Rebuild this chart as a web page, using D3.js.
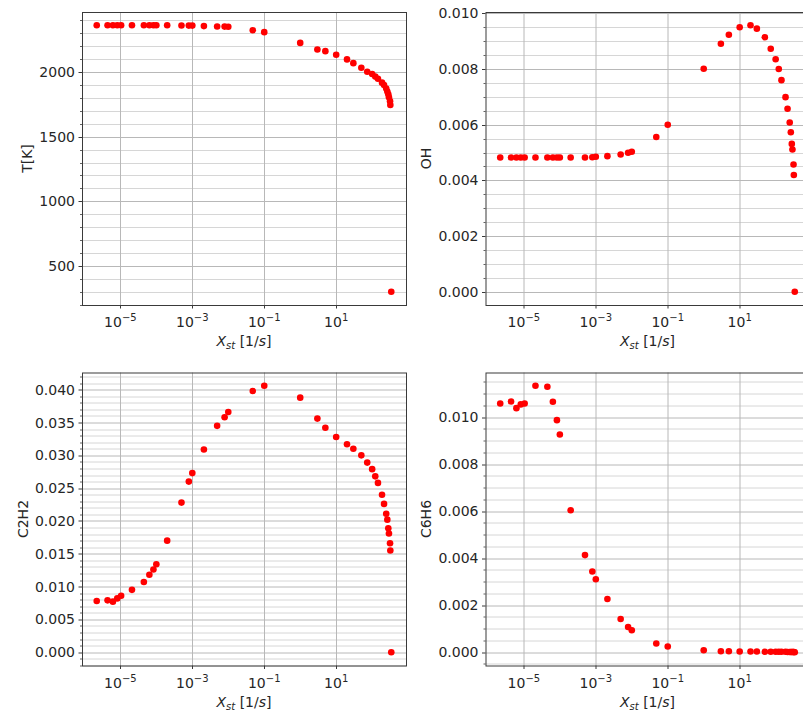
<!DOCTYPE html>
<html>
<head>
<meta charset="utf-8">
<script src="https://cdn.jsdelivr.net/npm/d3@7"></script>
<style>
  body { margin: 0; background: #fff; }
  svg { display: block; font-family: "DejaVu Sans", sans-serif; }
</style>
</head>
<body>
<svg id="fig" width="803" height="715"></svg>
<script>
// Stoichiometric scalar dissipation rate of each flamelet solution [1/s]
const strainRate = [
  2.2e-6, 4.4e-6, 6.2e-6, 8.2e-6, 1.05e-5, 2.1e-5, 4.5e-5, 6.4e-5, 8.3e-5, 1.0e-4,
  2.0e-4, 5.0e-4, 8.0e-4, 1.0e-3, 2.1e-3, 4.9e-3, 7.9e-3, 1.0e-2, 4.8e-2, 0.1,
  1, 3, 5, 10, 20, 30, 50, 73, 100, 122,
  145, 188, 214, 246, 264, 281, 293, 314, 320, 340
];

// Peak temperature [K]
const temperature = [
  2362, 2362, 2362, 2362, 2362, 2362, 2362, 2362, 2362, 2362,
  2362, 2361, 2360, 2360, 2356, 2353, 2352, 2351, 2324, 2309,
  2226, 2175, 2162, 2134, 2098, 2069, 2033, 2003, 1985, 1965,
  1948, 1918, 1900, 1872, 1850, 1828, 1805, 1775, 1745, 300
];

// OH mass fraction
const ohFraction = [
  0.00482, 0.00482, 0.00482, 0.00482, 0.00482, 0.00482, 0.00482, 0.00482, 0.00482, 0.00482,
  0.00482, 0.00482, 0.00483, 0.00485, 0.00487, 0.00493, 0.00499, 0.00503, 0.00556, 0.00600,
  0.00801, 0.00891, 0.00923, 0.00950, 0.00957, 0.00945, 0.00914, 0.00873, 0.00835, 0.00800,
  0.00760, 0.00699, 0.00657, 0.00608, 0.00573, 0.00531, 0.00511, 0.00457, 0.00419, 0.0
];

// C2H2 mass fraction
const c2h2Fraction = [
  0.0078, 0.0079, 0.0077, 0.0082, 0.0086, 0.0095, 0.0107, 0.0118, 0.0126, 0.0134,
  0.0170, 0.0228, 0.0260, 0.0273, 0.0309, 0.0345, 0.0358, 0.0366, 0.0398, 0.0406,
  0.0388, 0.0356, 0.0342, 0.0328, 0.0317, 0.0310, 0.0300, 0.0289, 0.0279, 0.0268,
  0.0258, 0.0240, 0.0226, 0.0211, 0.0202, 0.0189, 0.0181, 0.0166, 0.0155, 0.0
];

// C6H6 mass fraction
const c6h6Fraction = [
  0.01058, 0.01066, 0.01038, 0.01054, 0.01058, 0.01133, 0.01129, 0.01065, 0.00987, 0.00926,
  0.00604, 0.00413, 0.00343, 0.00310, 0.00226, 0.00141, 0.00107, 0.00093, 0.00037, 0.00024,
  0.00008, 0.00004, 0.00004, 0.00003, 0.00003, 0.00003, 0.00002, 0.00002, 0.00002, 0.00002,
  0.00002, 0.00002, 0.00001, 0.00001, 0.00001, 0.00001, 0.00001, 0.00001, 0.00001, 0.0
];

// Axis ticks
const xTickExponents = [-5, -3, -1, 1];
const tempTicks = [500, 1000, 1500, 2000];
const ohTicks = [0, 0.002, 0.004, 0.006, 0.008, 0.010];
const c2h2Ticks = [0, 0.005, 0.010, 0.015, 0.020, 0.025, 0.030, 0.035, 0.040];
const c6h6Ticks = [0, 0.002, 0.004, 0.006, 0.008, 0.010];

const panels = [
  { values: temperature,  label: "T[K]", ticks: tempTicks, minorStep: 100,    fmt: d3.format("d"),   col: 0, row: 0 },
  { values: ohFraction,   label: "OH",   ticks: ohTicks,   minorStep: 0.0005, fmt: d3.format(".3f"), col: 1, row: 0 },
  { values: c2h2Fraction, label: "C2H2", ticks: c2h2Ticks, minorStep: 0.001,  fmt: d3.format(".3f"), col: 0, row: 1 },
  { values: c6h6Fraction, label: "C6H6", ticks: c6h6Ticks, minorStep: 0.0005, fmt: d3.format(".3f"), col: 1, row: 1 }
];

// Figure layout
const colLeft = [82, 485.5];
const rowTop = [12, 372.5];
const axW = 324, axH = 293;
const fontSize = 14;
const textColor = "#262626";

const svg = d3.select("#fig");
svg.append("rect").attr("width", 803).attr("height", 715).attr("fill", "#fff");

// 5% padding of the data range, as a plotting library's autoscale would do
function padded(lo, hi) {
  const m = (hi - lo) * 0.05;
  return [lo - m, hi + m];
}

const logX = strainRate.map(Math.log10);
const xPad = padded(d3.min(logX), d3.max(logX));

panels.forEach(p => {
  const left = colLeft[p.col], top = rowTop[p.row];
  const g = svg.append("g").attr("transform", `translate(${left},${top})`);

  const x = d3.scaleLog().domain([10 ** xPad[0], 10 ** xPad[1]]).range([0, axW]);
  const y = d3.scaleLinear().domain(padded(d3.min(p.values), d3.max(p.values))).range([axH, 0]);

  const [ylo, yhi] = y.domain();
  const minorTicks = d3.range(Math.ceil(ylo / p.minorStep), Math.floor(yhi / p.minorStep) + 1)
    .map(i => i * p.minorStep)
    .filter(v => !p.ticks.some(t => Math.abs(t - v) < p.minorStep * 1e-3));

  const grid = g.append("g");
  // minor horizontal grid
  grid.selectAll("line.ymin").data(minorTicks).join("line")
    .attr("x1", 0).attr("x2", axW)
    .attr("y1", d => Math.round(y(d)) + 0.5).attr("y2", d => Math.round(y(d)) + 0.5)
    .attr("stroke", "#d6d6d6").attr("stroke-width", 1);
  // major horizontal grid
  grid.selectAll("line.ymaj").data(p.ticks).join("line")
    .attr("x1", 0).attr("x2", axW)
    .attr("y1", d => Math.round(y(d)) + 0.5).attr("y2", d => Math.round(y(d)) + 0.5)
    .attr("stroke", "#b8b8b8").attr("stroke-width", 1);
  // major vertical grid
  grid.selectAll("line.xmaj").data(xTickExponents).join("line")
    .attr("x1", d => Math.round(x(10 ** d)) + 0.5).attr("x2", d => Math.round(x(10 ** d)) + 0.5)
    .attr("y1", 0).attr("y2", axH)
    .attr("stroke", "#b8b8b8").attr("stroke-width", 1);

  // data points
  g.append("g").selectAll("circle").data(strainRate).join("circle")
    .attr("cx", d => x(d))
    .attr("cy", (d, i) => y(p.values[i]))
    .attr("r", 3.3)
    .attr("fill", "#ff0000");

  // frame
  g.append("rect").attr("x", 0.5).attr("y", 0.5).attr("width", axW).attr("height", axH)
    .attr("fill", "none").attr("stroke", "#3a3a3a").attr("stroke-width", 1);

  // y ticks
  g.append("g").selectAll("line").data(minorTicks).join("line")
    .attr("x1", -2).attr("x2", 0)
    .attr("y1", d => Math.round(y(d)) + 0.5).attr("y2", d => Math.round(y(d)) + 0.5)
    .attr("stroke", "#3a3a3a").attr("stroke-width", 0.8);
  g.append("g").selectAll("line").data(p.ticks).join("line")
    .attr("x1", -3.5).attr("x2", 0)
    .attr("y1", d => Math.round(y(d)) + 0.5).attr("y2", d => Math.round(y(d)) + 0.5)
    .attr("stroke", "#3a3a3a").attr("stroke-width", 1);
  const yLabels = g.append("g").selectAll("text").data(p.ticks).join("text")
    .attr("x", -7).attr("y", d => y(d)).attr("dy", "0.36em")
    .attr("text-anchor", "end").attr("font-size", fontSize).attr("fill", textColor)
    .text(d => p.fmt(d));

  // x ticks
  g.append("g").selectAll("line").data(xTickExponents).join("line")
    .attr("x1", d => Math.round(x(10 ** d)) + 0.5).attr("x2", d => Math.round(x(10 ** d)) + 0.5)
    .attr("y1", axH).attr("y2", axH + 3.5)
    .attr("stroke", "#3a3a3a").attr("stroke-width", 1);
  const xl = g.append("g").selectAll("text").data(xTickExponents).join("text")
    .attr("x", d => x(10 ** d)).attr("y", axH + 22)
    .attr("text-anchor", "middle").attr("font-size", fontSize).attr("fill", textColor);
  xl.append("tspan").text("10");
  xl.append("tspan").attr("dy", -6).attr("font-size", 10)
    .text(d => (d < 0 ? "\u2212" : "") + Math.abs(d));

  // x axis title
  const xt = g.append("text").attr("x", axW / 2).attr("y", axH + 41)
    .attr("text-anchor", "middle").attr("font-size", fontSize).attr("fill", textColor);
  xt.append("tspan").attr("font-style", "italic").text("X");
  xt.append("tspan").attr("font-style", "italic").attr("font-size", 10).attr("dy", 3).text("st");
  xt.append("tspan").attr("dy", -3).text(" [1/");
  xt.append("tspan").attr("font-style", "italic").text("s");
  xt.append("tspan").text("]");

  // y axis title, placed just left of the widest tick label
  let minX = 0;
  yLabels.each(function () { minX = Math.min(minX, this.getBBox().x); });
  g.append("text")
    .attr("transform", `translate(${minX - 12},${axH / 2}) rotate(-90)`)
    .attr("dy", "0.36em")
    .attr("text-anchor", "middle").attr("font-size", fontSize).attr("fill", textColor)
    .text(p.label);
});
</script>
</body>
</html>
